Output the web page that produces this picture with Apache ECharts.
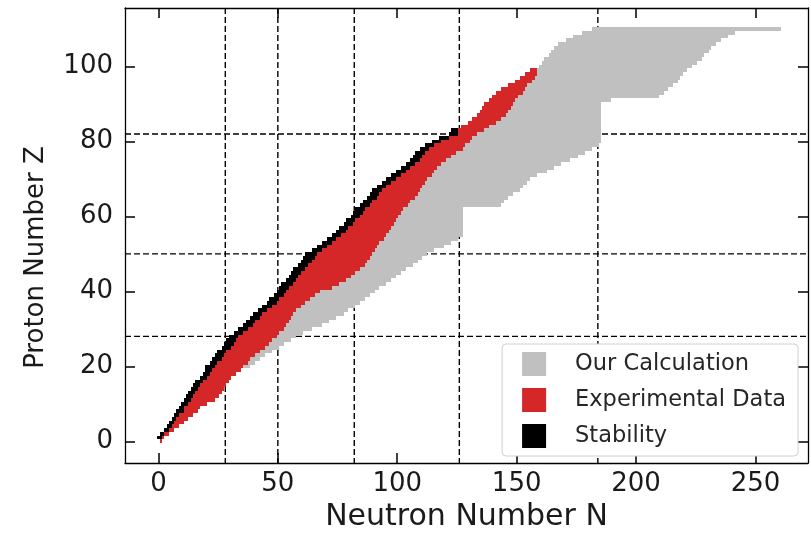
<!DOCTYPE html>
<html>
<head>
<meta charset="utf-8">
<script src="https://cdn.jsdelivr.net/npm/echarts@6/dist/echarts.min.js"></script>
<style>
  html, body { margin: 0; padding: 0; background: #fff; }
  #chart { width: 811px; height: 537px; }
</style>
</head>
<body>
<div id="chart"></div>
<script>
// Nuclide chart rows: array index = proton number Z, values = first / last neutron number N of the row.

// Stable nuclei (black)
const stabMin = [null, 0,1,3,4,5,6,7,8,9,10, 11,12,13,14,15,16,18,19,20,20, 22,23,24,25,27,28,29,30,32,34,
  36,37,39,40,42,44,46,47,49,50, 51,52,54,55,56,57,59,60,61,62, 65,67,69,71,73,75,76,78,79,81,
  82,83,85,86,88,89,90,92,94,96, 98,100,102,104,106,107,108,110,112,115, 118,122,123];
const stabMax = [null, 1,2,4,5,6,7,8,10,10,12, 13,14,15,16,17,18,20,21,22,23, 24,26,27,28,30,31,32,33,35,37,
  39,40,42,43,45,47,49,50,52,53, 54,56,57,58,59,61,62,64,65,66, 68,70,72,74,76,78,79,81,82,84,
  85,86,88,89,91,92,93,95,97,99, 101,103,105,107,109,110,111,113,115,118, 121,125,125];

// Measured nuclei (red)
const expMin = [1, 0,1,3,4,5,6,7,8,9,10, 11,12,13,14,15,16,18,19,20,20, 22,23,24,25,27,28,29,30,32,34,
  36,37,39,40,42,44,46,47,49,50, 51,52,54,55,56,57,59,60,61,62, 65,67,69,71,73,75,76,78,79,81,
  82,83,85,86,88,89,90,92,94,96, 98,100,102,104,106,107,108,110,112,115, 118,122,123,127,130,132,134,135,136,137,
  139,140,142,144,147,150,152,154,156];
const expMax = [1, 2,4,6,8,10,12,14,16,17,20, 23,25,26,27,28,29,30,32,34,35, 37,38,40,42,44,46,47,49,50,52,
  53,54,55,56,57,59,61,63,65,67, 72,75,78,80,82,84,86,87,88,89, 90,91,92,94,95,96,97,98,99,100,
  101,102,104,105,107,108,109,110,111,112, 114,115,116,118,120,122,124,127,128,130, 131,133,136,138,141,143,145,146,147,148,
  149,150,152,153,154,156,157,158,158];

// Calculated bound nuclei (grey)
const calcMin = [null, 0,1,3,4,5,6,7,8,9,10, 11,12,13,14,15,16,18,19,20,20, 22,23,24,25,27,28,29,30,32,34,
  36,37,39,40,42,44,46,47,49,50, 51,52,54,55,56,57,59,60,61,62, 65,67,69,71,73,75,76,78,79,81,
  82,83,85,86,88,89,90,92,94,96, 98,100,102,104,106,107,108,110,112,115, 118,122,123,127,130,132,134,135,136,137,
  139,140,142,144,147,150,152,154,159,160, 161,162,164,165,166,168,171,174,178,182];
const calcMax = [null, 2,4,6,8,10,12,14,16,17,20, 23,25,26,27,28,29,30,32,34,38, 40,42,44,47,50,52,55,57,60,64,
  68,71,74,77,79,82,84,86,88,90, 92,95,97,99,101,103,106,108,110,112, 115,119,122,125,127,127,127,127,127,127,
  127,127,143,144,146,148,151,152,154,155, 158,162,165,168,172,175,178,181,184,185, 185,185,185,185,185,185,185,185,185,185,
  189,209,211,213,215,217,218,219,221,223, 225,227,228,230,231,233,235,238,241,260];

// Magic numbers marked by dashed guide lines
const magicN = [28, 50, 82, 126, 184];
const magicZ = [28, 50, 82];

// Axis ticks
const xTicks = [0, 50, 100, 150, 200, 250];
const yTicks = [0, 20, 40, 60, 80, 100];

const seriesNames = ['Our Calculation', 'Experimental Data', 'Stability'];
const seriesColors = ['#c0c0c0', '#d62728', '#000000'];

function rowsOf(minArr, maxArr) {
  const rows = [];
  for (let z = 0; z < minArr.length; z++) {
    if (minArr[z] != null && maxArr[z] != null) rows.push([z, minArr[z], maxArr[z]]);
  }
  return rows;
}

// one rectangle per Z row, spanning its cells N-0.5 .. N+0.5, snapped to whole pixels
function rowRenderer(color) {
  return function (params, api) {
    const z = api.value(0), n0 = api.value(1), n1 = api.value(2);
    const a = api.coord([n0 - 0.5, z + 0.5]);
    const b = api.coord([n1 + 0.5, z - 0.5]);
    const x0 = Math.round(a[0]), x1 = Math.round(b[0]);
    const y0 = Math.round(a[1]), y1 = Math.round(b[1]);
    return {
      type: 'rect',
      shape: { x: x0, y: y0, width: x1 - x0, height: y1 - y0 },
      style: { fill: color }
    };
  };
}

const guideStyle = { stroke: '#000', lineWidth: 1.4, lineDash: [6, 3] };

const FONT = '"DejaVu Sans", sans-serif';
const X_MIN = -14, X_MAX = 272, Y_MIN = -5.8, Y_MAX = 115.6;

const frameAxis = {
  axisLine: { show: true, onZero: false, lineStyle: { color: '#000', width: 1.3 } },
  splitLine: { show: false }
};

const chart = echarts.init(document.getElementById('chart'), null, { renderer: 'canvas' });
chart.setOption({
  animation: false,
  backgroundColor: '#fff',
  grid: { left: 125, right: 3, top: 8, bottom: 70, containLabel: false },
  xAxis: [
    Object.assign({
      type: 'value', min: X_MIN, max: X_MAX, position: 'bottom',
      axisTick: { inside: true, length: 10, customValues: xTicks, lineStyle: { color: '#000', width: 1.5 } },
      axisLabel: { customValues: xTicks, fontSize: 26, color: '#1a1a1a', margin: 8, fontFamily: FONT },
      name: 'Neutron Number N', nameLocation: 'middle', nameGap: 37,
      nameTextStyle: { fontSize: 30, color: '#1a1a1a', fontFamily: FONT }
    }, frameAxis),
    Object.assign({
      type: 'value', min: X_MIN, max: X_MAX, position: 'top',
      axisTick: { inside: true, length: 10, customValues: xTicks, lineStyle: { color: '#000', width: 1.5 } },
      axisLabel: { show: false }
    }, frameAxis)
  ],
  yAxis: [
    Object.assign({
      type: 'value', min: Y_MIN, max: Y_MAX, position: 'left',
      axisTick: { inside: true, length: 10, customValues: yTicks, lineStyle: { color: '#000', width: 1.5 } },
      axisLabel: { customValues: yTicks, fontSize: 26, color: '#1a1a1a', margin: 12, fontFamily: FONT },
      name: 'Proton Number Z', nameLocation: 'middle', nameGap: 76,
      nameTextStyle: { fontSize: 26, color: '#1a1a1a', fontFamily: FONT, padding: [0, 44, 0, 0] }
    }, frameAxis),
    Object.assign({
      type: 'value', min: Y_MIN, max: Y_MAX, position: 'right',
      axisTick: { inside: true, length: 10, customValues: yTicks, lineStyle: { color: '#000', width: 1.5 } },
      axisLabel: { show: false }
    }, frameAxis)
  ],
  legend: {
    orient: 'vertical', right: 13, bottom: 81,
    data: seriesNames.map(n => ({ name: n, icon: 'rect' })),
    itemWidth: 24, itemHeight: 24, itemGap: 12,
    padding: [8, 12, 8, 20],
    backgroundColor: '#fff', borderColor: '#d0d0d0', borderWidth: 1, borderRadius: 4,
    textStyle: { fontSize: 22.5, color: '#262626', fontFamily: FONT, padding: [0, 0, 0, 24] },
    selectedMode: false
  },
  series: [
    {
      type: 'custom', name: 'guideN', z: 1, silent: true,
      data: magicN.map(n => [n]), encode: { x: 0 },
      renderItem: function (params, api) {
        const cs = params.coordSys;
        const x = api.coord([api.value(0), 0])[0];
        return { type: 'line', shape: { x1: x, y1: cs.y, x2: x, y2: cs.y + cs.height }, style: guideStyle };
      }
    },
    {
      type: 'custom', name: 'guideZ', z: 1, silent: true,
      data: magicZ.map(z => [0, z]), encode: { y: 1 },
      renderItem: function (params, api) {
        const cs = params.coordSys;
        const y = api.coord([0, api.value(1)])[1];
        return { type: 'line', shape: { x1: cs.x, y1: y, x2: cs.x + cs.width, y2: y }, style: guideStyle };
      }
    },
    {
      type: 'custom', name: seriesNames[0], z: 2, itemStyle: { color: seriesColors[0] },
      data: rowsOf(calcMin, calcMax), encode: { x: [1, 2], y: 0 },
      renderItem: rowRenderer(seriesColors[0])
    },
    {
      type: 'custom', name: seriesNames[1], z: 3, itemStyle: { color: seriesColors[1] },
      data: rowsOf(expMin, expMax), encode: { x: [1, 2], y: 0 },
      renderItem: rowRenderer(seriesColors[1])
    },
    {
      type: 'custom', name: seriesNames[2], z: 4, itemStyle: { color: seriesColors[2] },
      data: rowsOf(stabMin, stabMax), encode: { x: [1, 2], y: 0 },
      renderItem: rowRenderer(seriesColors[2])
    }
  ]
});
</script>
</body>
</html>
